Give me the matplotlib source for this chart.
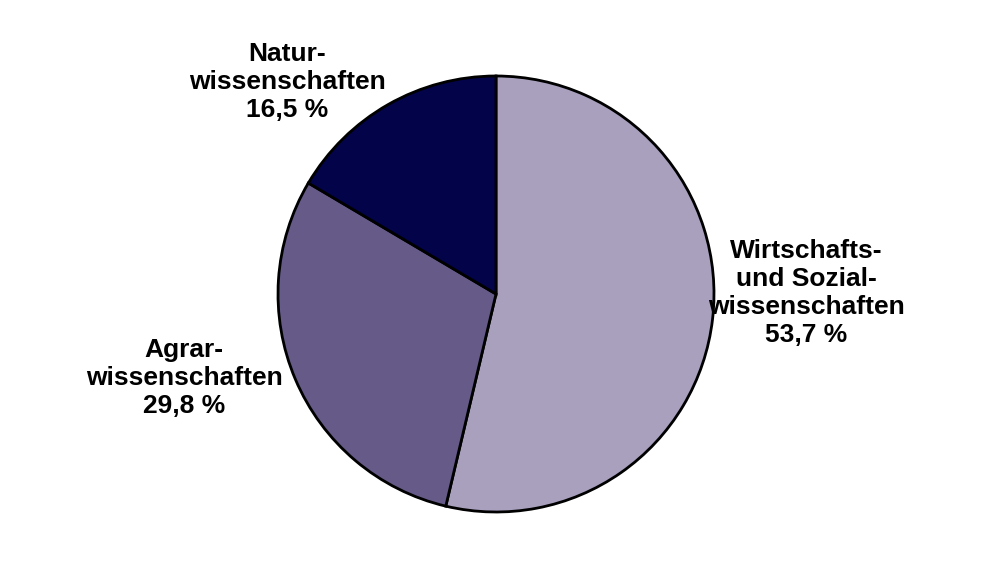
import matplotlib.pyplot as plt

# Anteile der Fachrichtungen (im Uhrzeigersinn ab 12 Uhr)
labels = ['Wirtschafts-\nund Sozial-\nwissenschaften\n53,7 %',
          'Agrar-\nwissenschaften\n29,8 %',
          'Natur-\nwissenschaften\n16,5 %']
shares = [53.7, 29.8, 16.5]
colors = ['#A9A0BD', '#655A88', '#03034A']
label_pos = [(806, 268), (184, 183), (287, 479)]

fig = plt.figure(figsize=(9.92, 5.61), dpi=100)
ax = fig.add_axes([0, 0, 1, 1])
ax.set_xlim(0, 992)
ax.set_ylim(0, 561)
ax.axis('off')

ax.pie(shares, colors=colors, startangle=90, counterclock=False,
       center=(496, 267), radius=218,
       wedgeprops=dict(edgecolor='black', linewidth=2))
ax.set_xlim(0, 992)
ax.set_ylim(0, 561)
ax.set_aspect('equal')

for txt, (x, y) in zip(labels, label_pos):
    ax.text(x, y, txt, ha='center', va='center', multialignment='center',
            fontsize=19, fontweight='bold', family='Liberation Sans',
            linespacing=1.2)

fig.savefig('out.png', dpi=100)
